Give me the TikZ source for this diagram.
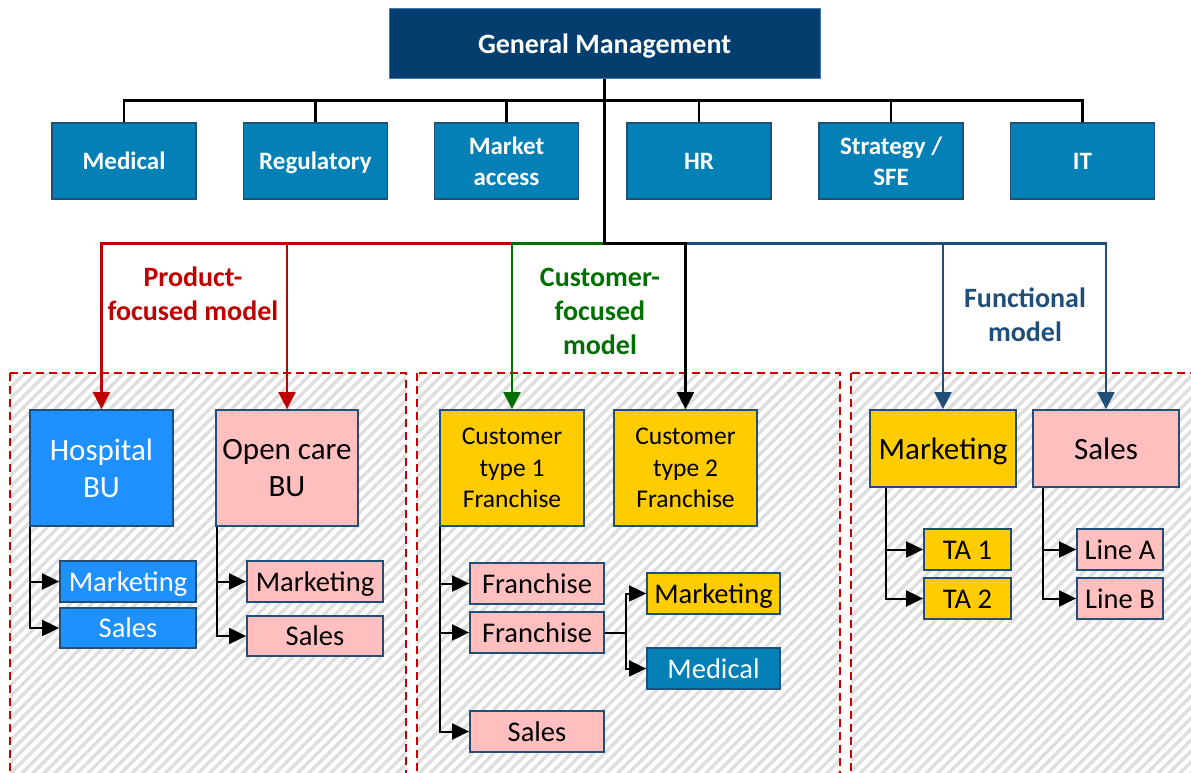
\documentclass[tikz,border=0pt]{standalone}
\usepackage{fontspec}
\setmainfont{Carlito}
\usetikzlibrary{arrows.meta,patterns.meta}
\definecolor{gmfill}{RGB}{4,62,111}
\definecolor{gmline}{RGB}{70,120,180}
\definecolor{rowfill}{RGB}{3,128,181}
\definecolor{boxline}{RGB}{31,78,121}
\definecolor{brightblue}{RGB}{30,144,255}
\definecolor{pinkfill}{RGB}{255,191,191}
\definecolor{goldfill}{RGB}{255,204,0}
\definecolor{redc}{RGB}{192,0,0}
\definecolor{dashred}{RGB}{204,0,0}
\definecolor{greenc}{RGB}{0,112,0}
\definecolor{bluec}{RGB}{31,78,121}
\definecolor{hatch}{RGB}{222,222,222}
\tikzset{
  region/.style={pattern={Lines[angle=45,distance=7.8pt,line width=3.4pt]}, pattern color=hatch, draw=dashred, line width=1.8pt, dash pattern=on 8pt off 5pt},
  bx/.style={draw=boxline, line width=1.8pt, inner sep=0pt, align=center},
  gmbox/.style={draw=gmline, line width=1pt, fill=gmfill, text=white, inner sep=0pt, align=center, font=\fontsize{28}{34}\selectfont\bfseries, text height=26.7pt, text depth=7.5pt},
  rowbox/.style={bx, fill=rowfill, text=white, minimum width=144pt, minimum height=76pt, font=\fontsize{25}{31}\selectfont\bfseries},
  rowone/.style={rowbox, text height=23.8pt, text depth=6.7pt},
  bigbox/.style={bx, font=\fontsize{31}{37}\selectfont},
  bigone/.style={bigbox, text height=29.5pt, text depth=8.3pt},
  custbox/.style={bx, fill=goldfill, minimum width=144pt, minimum height=116pt, font=\fontsize{25.5}{31.5}\selectfont},
  smallbox/.style={bx, font=\fontsize{28.5}{32}\selectfont, text height=27pt, text depth=7.7pt},
  lbl/.style={align=center, inner sep=0pt, font=\fontsize{28}{34}\selectfont\bfseries},
  topc/.style={draw=black, line width=2.2pt},
  mainc/.style={line width=2.2pt, -{Triangle[length=17pt,width=17pt]}},
  subc/.style={draw=black, line width=2pt, -{Triangle[length=17pt,width=16pt]}}
}
\begin{document}
\begin{tikzpicture}[x=1pt,y=-1pt]
\useasboundingbox (0,0) rectangle (1191,773);
\begin{scope}
\clip (0,0) rectangle (1191,773);
\fill[white] (0,0) rectangle (1191,773);
\path[region] (10,373) rectangle (406,800);
\path[region] (417,373) rectangle (840,800);
\path[region] (851,373) rectangle (1215,800);
\end{scope}

% top
\node[gmbox, minimum width=431pt, minimum height=70pt] (gm) at (604.5,44) {General Management};
\node[rowone] (med) at (124,161) {Medical};
\node[rowone] (reg) at (315.5,161) {Regulatory};
\node[rowbox] (mka) at (506.5,161) {Market\\access};
\node[rowone] (hr) at (699,161) {HR};
\node[rowbox] (str) at (891,161) {Strategy /\\SFE};
\node[rowone] (it) at (1082.5,161) {IT};

% labels
\node[lbl, text=redc] (lprod) at (193,294) {Product-\\focused model};
\node[lbl, text=greenc] (lcust) at (600,311.5) {Customer-\\focused\\model};
\node[lbl, text=bluec] (lfunc) at (1025,315) {Functional\\model};

% region 1
\node[bigbox, fill=brightblue, text=white, minimum width=143pt, minimum height=116pt] (hosp) at (101.5,468) {Hospital\\BU};
\node[bigbox, fill=pinkfill, minimum width=142pt, minimum height=116pt] (open) at (287,468) {Open care\\BU};
\node[smallbox, fill=brightblue, text=white, minimum width=136pt, minimum height=41pt] (bmkt) at (128,581.5) {Marketing};
\node[smallbox, fill=brightblue, text=white, minimum width=136pt, minimum height=40pt] (bsales) at (128,628) {Sales};
\node[smallbox, fill=pinkfill, minimum width=136pt, minimum height=41pt] (pmkt) at (315,581.5) {Marketing};
\node[smallbox, fill=pinkfill, minimum width=136pt, minimum height=40pt] (psales) at (315,636) {Sales};

% region 2
\node[custbox] (cust1) at (512,468) {Customer\\type 1\\Franchise};
\node[custbox, minimum width=143pt] (cust2) at (685.5,468) {Customer\\type 2\\Franchise};
\node[smallbox, fill=pinkfill, minimum width=134pt, minimum height=41pt] (fr1) at (537,583.5) {Franchise};
\node[smallbox, fill=pinkfill, minimum width=134pt, minimum height=41pt] (fr2) at (537,632.5) {Franchise};
\node[smallbox, fill=goldfill, minimum width=133pt, minimum height=41pt] (cmkt) at (713.5,593.5) {Marketing};
\node[smallbox, fill=rowfill, text=white, minimum width=133pt, minimum height=41pt] (cmed) at (713.5,668.5) {Medical};
\node[smallbox, fill=pinkfill, minimum width=134pt, minimum height=41pt] (csales) at (537,731.5) {Sales};

% region 3
\node[bigone, fill=goldfill, minimum width=146pt, minimum height=77pt] (fmkt) at (943,448.5) {Marketing};
\node[bigone, fill=pinkfill, minimum width=146pt, minimum height=77pt] (fsales) at (1106,448.5) {Sales};
\node[smallbox, fill=goldfill, minimum width=87pt, minimum height=41pt] (ta1) at (967.5,549.5) {TA 1};
\node[smallbox, fill=goldfill, minimum width=87pt, minimum height=41pt] (ta2) at (967.5,598.5) {TA 2};
\node[smallbox, fill=pinkfill, minimum width=86pt, minimum height=41pt] (la) at (1120,549.5) {Line A};
\node[smallbox, fill=pinkfill, minimum width=86pt, minimum height=41pt] (lb) at (1120,598.5) {Line B};

% top connectors
\foreach \t in {med,reg,mka,hr,str,it}
  \draw[topc] (gm.south) -- ++(0,21) -| (\t.north);

% main connectors
\draw[mainc, draw=redc] (gm.south) -- ++(0,164) -| (hosp.north);
\draw[mainc, draw=redc] (gm.south) -- ++(0,164) -| (open.north);
\draw[mainc, draw=greenc] (gm.south) -- ++(0,164) -| (cust1.north);
\draw[mainc, draw=bluec] (gm.south) -- ++(0,164) -| (fmkt.north);
\draw[mainc, draw=bluec] (gm.south) -- ++(0,164) -| (fsales.north);
\draw[mainc, draw=black] (gm.south) -- ++(0,164) -| (cust2.north);

% sub connectors
\draw[subc] ([xshift=1pt]hosp.south west) |- (bmkt.west);
\draw[subc] ([xshift=1pt]hosp.south west) |- (bsales.west);
\draw[subc] ([xshift=2pt]open.south west) |- (pmkt.west);
\draw[subc] ([xshift=2pt]open.south west) |- (psales.west);
\draw[subc] ([xshift=1pt]cust1.south west) |- (fr1.west);
\draw[subc] ([xshift=1pt]cust1.south west) |- (fr2.west);
\draw[subc] ([xshift=1pt]cust1.south west) |- (csales.west);
\draw[subc] (fr2.east) -- ++(21,0) |- (cmkt.west);
\draw[subc] (fr2.east) -- ++(21,0) |- (cmed.west);
\draw[subc] ([xshift=17pt]fmkt.south west) |- (ta1.west);
\draw[subc] ([xshift=17pt]fmkt.south west) |- (ta2.west);
\draw[subc] ([xshift=11pt]fsales.south west) |- (la.west);
\draw[subc] ([xshift=11pt]fsales.south west) |- (lb.west);
\end{tikzpicture}
\end{document}
